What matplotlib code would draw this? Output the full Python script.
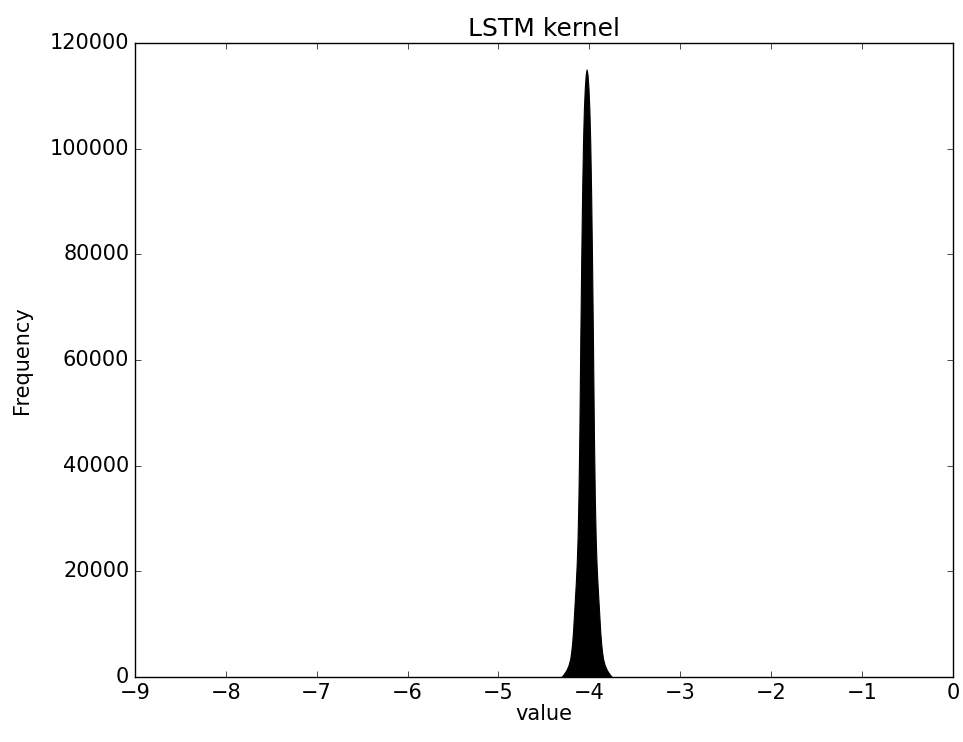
import matplotlib
matplotlib.use("Agg")
import matplotlib.pyplot as plt
import numpy as np

plt.style.use("classic")

# Histogram bins (centers) and counts
bin_centers = [-4.31, -4.30, -4.29, -4.28, -4.27, -4.26, -4.25, -4.24, -4.23, -4.22,
               -4.21, -4.20, -4.19, -4.18, -4.17, -4.16, -4.15, -4.14, -4.13, -4.12,
               -4.11, -4.10, -4.09, -4.08, -4.07, -4.06, -4.05, -4.04, -4.03, -4.02,
               -4.01, -4.00, -3.99, -3.98, -3.97, -3.96, -3.95, -3.94, -3.93, -3.92,
               -3.91, -3.90, -3.89, -3.88, -3.87, -3.86, -3.85, -3.84, -3.83, -3.82,
               -3.81, -3.80, -3.79, -3.78, -3.77, -3.76, -3.75]
counts = [0, 150, 350, 600, 850, 1100, 1400, 1800, 2200, 2800,
          3500, 4700, 6300, 8500, 11500, 14500, 17500, 21000, 26000, 34000,
          46000, 63000, 78000, 91000, 101000, 107500, 111500, 114000, 115000, 114000,
          111500, 107500, 101000, 91000, 78000, 63000, 46000, 34000, 26000, 21000,
          17500, 14500, 11500, 8500, 6300, 4700, 3500, 2800, 2200, 1800,
          1400, 1100, 850, 600, 350, 150, 0]

x_ticks = [-9, -8, -7, -6, -5, -4, -3, -2, -1, 0]
y_ticks = [0, 20000, 40000, 60000, 80000, 100000, 120000]

fig = plt.figure(figsize=(9.63, 7.42), dpi=100, facecolor="white")
ax = fig.add_axes([0.140, 0.0876, 0.8496, 0.8544])

ax.fill_between(bin_centers, counts, 0, color="k", edgecolor="k", linewidth=0.8)

ax.set_xlim(-9, 0)
ax.set_ylim(0, 120000)
ax.set_xticks(x_ticks)
ax.set_yticks(y_ticks)
ax.tick_params(labelsize=15)
ax.set_xlabel("value", fontsize=15, labelpad=1)
ax.set_ylabel("Frequency", fontsize=15, labelpad=13)
ax.set_title("LSTM kernel", fontsize=18)

fig.savefig("out.png", dpi=100, facecolor="white")
